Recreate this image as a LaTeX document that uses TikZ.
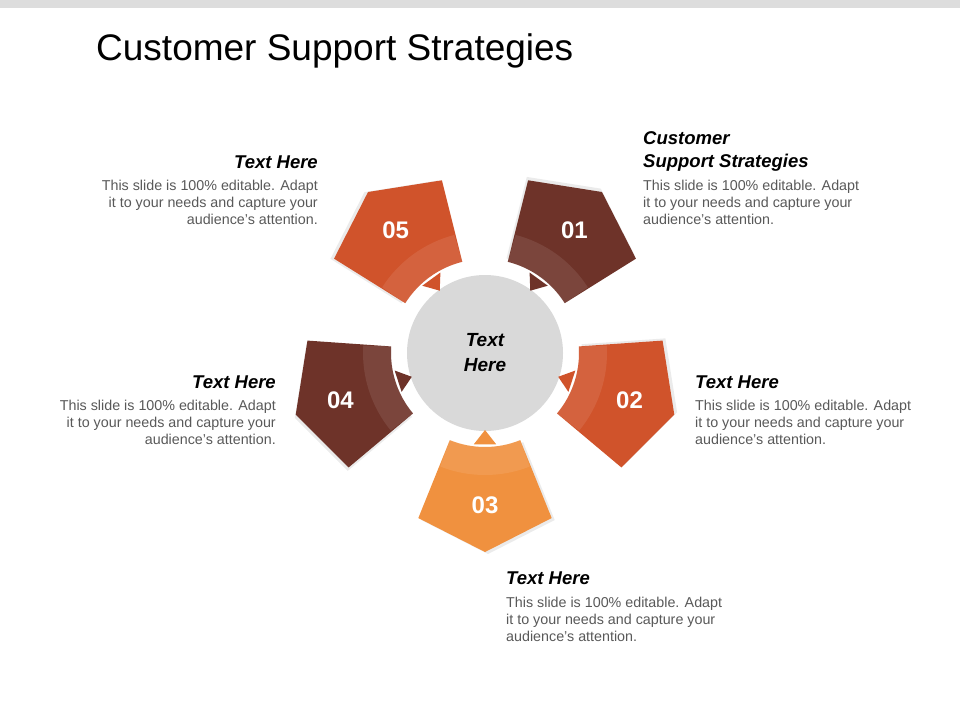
\documentclass[tikz,border=0pt]{standalone}
\usepackage{fontspec}
\setmainfont{Liberation Sans}
\usetikzlibrary{calc}
\definecolor{barGray}{HTML}{DDDDDD}
\definecolor{hubGray}{HTML}{D9D9D9}
\definecolor{bodyGray}{HTML}{595959}
\definecolor{darkBrown}{HTML}{6E3329}
\definecolor{rustRed}{HTML}{D0532B}
\definecolor{lightOrange}{HTML}{F0913F}
\tikzset{
  heading/.style={font=\fontsize{18.5}{23}\selectfont\bfseries\itshape, inner sep=0pt},
  bodytext/.style={font=\fontsize{14.3}{17}\selectfont, text=bodyGray, inner sep=0pt},
  number/.style={font=\fontsize{24}{28}\selectfont\bfseries, text=white}
}
% one petal pointing at the hub
\newcommand{\petal}[4]{%
  \begin{scope}[shift={(hub.center)}, rotate=#1]
    \fill[black, opacity=0.08, shift={(2,-3)}] (22:94) -- (22:178) -- (0:199) -- (-22:178) -- (-22:94) arc[start angle=-22, end angle=22, radius=94] -- cycle;
    \fill[#2] (22:94) -- (22:178) -- (0:199) -- (-22:178) -- (-22:94) arc[start angle=-22, end angle=22, radius=94] -- cycle;
    \fill[#2] (-7:92) -- (0:77) -- (7:92) -- cycle;
    \fill[white, opacity=0.09] (22:94) -- (21.5:122) arc[start angle=21.5, end angle=-21.5, radius=122] -- (-22:94) arc[start angle=-22, end angle=22, radius=94] -- cycle;
  \end{scope}
  \node[number] (#4) at ($(hub.center)+({152*cos(#1)},{-152*sin(#1)})$) {#3};
}
\begin{document}
\begin{tikzpicture}[x=1pt, y=-1pt]
  \useasboundingbox (0,0) rectangle (960,720);
  \fill[white] (0,0) rectangle (960,720);
  \fill[barGray] (0,0) rectangle (960,8);
  \node[anchor=base west, inner sep=0pt, font=\fontsize{37}{40}\selectfont] (title) at (96,60) {Customer Support Strategies};
  % hub
  \node[circle, fill=hubGray, minimum size=156pt, inner sep=0pt] (hub) at (485,353) {};
  \node[heading, align=center, font=\fontsize{19}{25}\selectfont\bfseries\itshape] (hubtext) at (hub.center) {Text\\Here};
  % petals
  \petal{54}{darkBrown}{01}{p1}
  \petal{-18}{rustRed}{02}{p2}
  \petal{-90}{lightOrange}{03}{p3}
  \petal{198}{darkBrown}{04}{p4}
  \petal{126}{rustRed}{05}{p5}
  % captions
  \node[heading, anchor=base east] (h5) at (318,168) {Text Here};
  \node[bodytext, anchor=north east, align=right] (b5) at (318,180) {This slide is 100\% editable. Adapt\\it to your needs and capture your\\audience's attention.};
  \node[heading, anchor=north west, align=left] (h1) at (643,131) {Customer\\Support Strategies};
  \node[bodytext, anchor=north west, align=left] (b1) at (643,180) {This slide is 100\% editable. Adapt\\it to your needs and capture your\\audience's attention.};
  \node[heading, anchor=base east] (h4) at (276,388) {Text Here};
  \node[bodytext, anchor=north east, align=right] (b4) at (276,400) {This slide is 100\% editable. Adapt\\it to your needs and capture your\\audience's attention.};
  \node[heading, anchor=base west] (h2) at (695,388) {Text Here};
  \node[bodytext, anchor=north west, align=left] (b2) at (695,400) {This slide is 100\% editable. Adapt\\it to your needs and capture your\\audience's attention.};
  \node[heading, anchor=base west] (h3) at (506,584) {Text Here};
  \node[bodytext, anchor=north west, align=left] (b3) at (506,597) {This slide is 100\% editable. Adapt\\it to your needs and capture your\\audience's attention.};
\end{tikzpicture}
\end{document}
